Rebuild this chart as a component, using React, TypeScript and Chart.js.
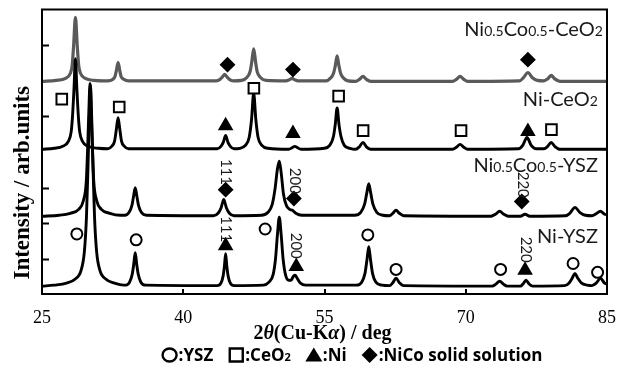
import React, { useEffect, useRef } from 'react';
import { Chart, registerables } from 'chart.js';

Chart.register(...registerables);

// ---------------- data ----------------
const X_MIN = 25;
const X_MAX = 85;
const xTickValues = [25, 40, 55, 70, 85];
const xInnerTicks = [40, 55, 70];
const yInnerTicks = [35, 71, 107, 180, 252];
const Y_MIN = -1;
const Y_MAX = 288;

// vertical stacking offsets of the four patterns (arb. units)
const seriesOffsets = [215, 146, 78, 7];

// [2theta, intensity above own baseline]
const niCoCeO2: [number, number][] = [
  [25, 0], [26.5, 1], [27.5, 3], [28.0, 8], [28.2, 16], [28.35, 35], [28.55, 65], [28.75, 35], [28.9, 16], [29.1, 8], [29.6, 3], [30.5, 1],
  [32.0, 0.5], [32.5, 2], [32.75, 5], [32.9, 11], [33.08, 19], [33.26, 11], [33.4, 5], [33.7, 2], [34.2, 0.5],
  [43.5, 0.5], [43.9, 2], [44.2, 5], [44.4, 7], [44.6, 5], [44.9, 2], [45.3, 0.5],
  [46.2, 1], [46.75, 4], [47.1, 10], [47.28, 20], [47.48, 33], [47.68, 20], [47.85, 10], [48.2, 4], [48.8, 1],
  [50.9, 0.5], [51.25, 1.5], [51.55, 3], [51.85, 1.5], [52.2, 0.5],
  [55.2, 0.5], [55.6, 3], [55.95, 8], [56.15, 16], [56.34, 26], [56.53, 16], [56.72, 8], [57.05, 3], [57.5, 0.5],
  [58.3, 0], [58.7, 2], [59.09, 5], [59.45, 2], [59.9, 0],
  [68.6, 0], [69.0, 2], [69.4, 5], [69.8, 2], [70.2, 0],
  [75.7, 0.5], [76.15, 4], [76.6, 9], [77.05, 4], [77.6, 1],
  [78.3, 0.5], [78.7, 2.5], [79.07, 6], [79.45, 2.5], [80.0, 0],
  [85, 0],
];

const niCeO2: [number, number][] = [
  [25, 0], [26.3, 1], [27.2, 3], [27.8, 8], [28.1, 18], [28.25, 35], [28.4, 62], [28.55, 92], [28.7, 62], [28.85, 35], [29.0, 18], [29.3, 8], [29.9, 3], [31.0, 1],
  [32.0, 0.5], [32.4, 3], [32.7, 8], [32.88, 19], [33.08, 32], [33.28, 19], [33.45, 8], [33.75, 3], [34.2, 0.5],
  [43.6, 0.5], [44.0, 3], [44.25, 7], [44.5, 14], [44.75, 7], [45.0, 3], [45.4, 0.5],
  [46.0, 1], [46.6, 4], [47.0, 12], [47.25, 30], [47.48, 57], [47.71, 30], [47.95, 12], [48.35, 4], [49.0, 1],
  [51.2, 0], [51.55, 1.5], [51.85, 3], [52.15, 1.5], [52.5, 0],
  [55.0, 1], [55.55, 4], [55.95, 13], [56.14, 25], [56.34, 42], [56.54, 25], [56.75, 13], [57.1, 4], [57.7, 1],
  [58.3, 0], [58.7, 2.5], [59.09, 7], [59.45, 2.5], [59.9, 0],
  [68.6, 0], [69.0, 2], [69.4, 5], [69.8, 2], [70.2, 0],
  [75.6, 0.5], [76.05, 4], [76.5, 12], [76.95, 4], [77.5, 0.5],
  [78.3, 0.5], [78.7, 3], [79.07, 7], [79.45, 3], [80.0, 0],
  [85, 0],
];

const niCoYSZ: [number, number][] = [
  [25, 0], [26.8, 1], [28.0, 3], [28.9, 7], [29.4, 16], [29.7, 35], [29.85, 70], [29.97, 105], [30.1, 135], [30.23, 105], [30.35, 70], [30.5, 35], [30.8, 16], [31.3, 7], [32.2, 3], [33.3, 1],
  [33.8, 1], [34.25, 4], [34.55, 11], [34.72, 20], [34.9, 29], [35.08, 20], [35.25, 11], [35.55, 4], [36.1, 1],
  [43.2, 0.5], [43.7, 3], [44.0, 8], [44.15, 13], [44.3, 17], [44.45, 13], [44.6, 8], [44.9, 3], [45.4, 0.5],
  [48.3, 1], [49.0, 4], [49.45, 12], [49.75, 28], [50.0, 48], [50.2, 56], [50.4, 44], [50.65, 22], [50.95, 11], [51.3, 7], [51.6, 6], [51.95, 3], [52.6, 1],
  [58.2, 1], [58.85, 4], [59.25, 12], [59.5, 24], [59.7, 33], [59.9, 24], [60.15, 12], [60.55, 4], [61.2, 1],
  [61.9, 0.5], [62.25, 3], [62.6, 6], [62.95, 3], [63.4, 0.5],
  [72.7, 0], [73.15, 2], [73.6, 5], [74.05, 2], [74.5, 0],
  [75.8, 0], [76.3, 2], [76.8, 0],
  [80.6, 0.5], [81.05, 3], [81.6, 9], [82.1, 4], [82.7, 1],
  [83.4, 0.5], [83.85, 2.5], [84.3, 5], [84.75, 2], [85, 1.5],
];

const niYSZ: [number, number][] = [
  [25, 0], [26.3, 1], [27.6, 3], [28.5, 7], [29.15, 16], [29.5, 35], [29.72, 70], [29.88, 120], [30.02, 170], [30.15, 204], [30.28, 170], [30.42, 120], [30.58, 70], [30.8, 35], [31.15, 16], [31.8, 7], [32.7, 3], [33.7, 1],
  [33.9, 1], [34.3, 4], [34.58, 12], [34.74, 22], [34.9, 34], [35.06, 22], [35.22, 12], [35.5, 4], [36.0, 1],
  [43.6, 0.5], [44.0, 3], [44.23, 10], [44.37, 20], [44.5, 33], [44.63, 20], [44.77, 10], [45.0, 3], [45.4, 0.5],
  [48.5, 1], [49.1, 4], [49.55, 12], [49.8, 28], [50.0, 52], [50.2, 70], [50.4, 52], [50.6, 28], [50.85, 12], [51.2, 6], [51.45, 6], [51.7, 10], [51.9, 11], [52.1, 8], [52.45, 3], [53.0, 1],
  [58.4, 1], [58.95, 4], [59.3, 13], [59.5, 26], [59.7, 40], [59.9, 26], [60.1, 13], [60.45, 4], [61.1, 1],
  [61.9, 0.5], [62.25, 3.5], [62.6, 8], [62.95, 3.5], [63.4, 0.5],
  [72.8, 0], [73.2, 2], [73.6, 5], [74.0, 2], [74.4, 0],
  [75.8, 0], [76.1, 2.5], [76.4, 6], [76.7, 2.5], [77.1, 0],
  [80.5, 0.5], [80.95, 3], [81.3, 8], [81.6, 13], [81.9, 8], [82.3, 3], [82.9, 1],
  [83.4, 0.5], [83.85, 3], [84.3, 8], [84.75, 3], [85, 2],
];

// phase markers [2theta, stacked intensity]
const yszMarks: [number, number][] = [[28.7, 60], [35.0, 54], [48.7, 65], [59.6, 59], [62.6, 24], [73.7, 24], [81.4, 30], [84.0, 21]];
const ceo2Marks: [number, number][] = [[27.1, 197], [33.2, 189], [47.5, 208], [56.5, 200], [59.1, 165], [69.5, 165], [79.1, 166]];
const niMarks: [number, number][] = [[44.5, 170], [51.65, 162], [76.6, 164], [44.5, 48], [52.0, 27], [76.3, 23]];
const nicoMarks: [number, number][] = [[44.7, 232], [51.65, 227], [76.6, 237], [44.5, 105], [51.75, 96], [75.95, 93]];

// hkl annotations [text, 2theta, stacked intensity]
const hklLabels: [string, number, number][] = [
  ['111', 44.5, 123], ['200', 51.85, 114], ['220', 76.05, 110],
  ['111', 44.5, 65], ['200', 51.95, 48], ['220', 76.4, 44],
];

// sample names: segments [text, isSmall], right anchor 2theta, baseline intensity
const seriesLabels: { segs: [string, number][]; x: number; y: number }[] = [
  { segs: [['Ni', 0], ['0.5', 1], ['Co', 0], ['0.5', 1], ['-CeO', 0], ['2', 1]], x: 84.57, y: 261 },
  { segs: [['Ni-CeO', 0], ['2', 1]], x: 84.04, y: 190 },
  { segs: [['Ni', 0], ['0.5', 1], ['Co', 0], ['0.5', 1], ['-YSZ', 0]], x: 84.04, y: 123 },
  { segs: [['Ni-YSZ', 0]], x: 84.04, y: 51 },
];

const legendItems: { sym: string; segs: [string, number][] }[] = [
  { sym: 'circle', segs: [[':YSZ', 0]] },
  { sym: 'square', segs: [[':CeO', 0], ['2', 1]] },
  { sym: 'triangle', segs: [[':Ni', 0]] },
  { sym: 'diamond', segs: [[':NiCo solid solution', 0]] },
];

const xTitleSegs: [string, number][] = [['2', 0], ['θ', 1], ['(Cu-K', 0], ['α', 1], [') / deg', 0]];
const yTitle = 'Intensity / arb.units';

// ---------------- helpers ----------------
function richWidth(ctx: CanvasRenderingContext2D, segs: [string, number][], fonts: string[]) {
  let w = 0;
  for (const [t, k] of segs) {
    ctx.font = fonts[k];
    w += ctx.measureText(t).width;
  }
  return w;
}

function drawRich(ctx: CanvasRenderingContext2D, segs: [string, number][], fonts: string[], x: number, y: number) {
  let cx = x;
  for (const [t, k] of segs) {
    ctx.font = fonts[k];
    ctx.fillText(t, cx, y);
    cx += ctx.measureText(t).width;
  }
  return cx;
}

function drawSymbol(ctx: CanvasRenderingContext2D, kind: string, cx: number, cy: number) {
  ctx.beginPath();
  ctx.lineWidth = 2.4;
  ctx.strokeStyle = '#000';
  ctx.fillStyle = '#000';
  if (kind === 'circle') {
    ctx.ellipse(cx, cy, 7, 6.5, 0, 0, Math.PI * 2);
    ctx.stroke();
  } else if (kind === 'square') {
    ctx.rect(cx - 6.5, cy - 6.5, 13, 13);
    ctx.stroke();
  } else if (kind === 'triangle') {
    ctx.moveTo(cx, cy - 7.5);
    ctx.lineTo(cx + 8.5, cy + 6.5);
    ctx.lineTo(cx - 8.5, cy + 6.5);
    ctx.closePath();
    ctx.fill();
  } else {
    ctx.moveTo(cx, cy - 8);
    ctx.lineTo(cx + 8, cy);
    ctx.lineTo(cx, cy + 8);
    ctx.lineTo(cx - 8, cy);
    ctx.closePath();
    ctx.fill();
  }
}

const decorPlugin = {
  id: 'decor',
  afterDraw(chart: any) {
    const { ctx, chartArea: a, scales } = chart;
    const xs = scales.x;
    const ys = scales.y;
    ctx.save();

    // frame
    ctx.strokeStyle = '#000';
    ctx.lineWidth = 2;
    ctx.strokeRect(a.left, a.top, a.right - a.left, a.bottom - a.top);

    // inner ticks
    ctx.beginPath();
    for (const v of yInnerTicks) {
      const py = Math.round(ys.getPixelForValue(v)) + 0.5;
      ctx.moveTo(a.left, py);
      ctx.lineTo(a.left + 7, py);
    }
    for (const v of xInnerTicks) {
      const px = Math.round(xs.getPixelForValue(v));
      ctx.moveTo(px, a.bottom);
      ctx.lineTo(px, a.bottom - 5);
    }
    ctx.lineWidth = 2;
    ctx.stroke();

    // sample labels
    ctx.fillStyle = '#1a1a1a';
    ctx.textBaseline = 'alphabetic';
    ctx.textAlign = 'left';
    const lblFonts = ['20px Lato', '14px Lato'];
    for (const s of seriesLabels) {
      const w = richWidth(ctx, s.segs, lblFonts);
      const rx = xs.getPixelForValue(s.x);
      drawRich(ctx, s.segs, lblFonts, rx - w, ys.getPixelForValue(s.y));
    }

    // hkl labels (rotated clockwise)
    ctx.font = '15px Lato';
    ctx.textAlign = 'center';
    ctx.textBaseline = 'middle';
    for (const [t, v, i] of hklLabels) {
      ctx.save();
      ctx.translate(xs.getPixelForValue(v), ys.getPixelForValue(i));
      ctx.rotate(Math.PI / 2);
      ctx.fillText(t, 0, 0);
      ctx.restore();
    }

    // y title
    ctx.fillStyle = '#000';
    ctx.save();
    ctx.translate(a.left - 13, (a.top + a.bottom) / 2 + 31);
    ctx.rotate(-Math.PI / 2);
    ctx.textAlign = 'center';
    ctx.textBaseline = 'alphabetic';
    ctx.font = 'bold 23px "Liberation Serif"';
    ctx.fillText(yTitle, 0, 0);
    ctx.restore();

    // x title
    ctx.textAlign = 'left';
    ctx.textBaseline = 'alphabetic';
    const tFonts = ['bold 20px "Liberation Serif"', 'italic bold 20px "Liberation Serif"'];
    const tw = richWidth(ctx, xTitleSegs, tFonts);
    const tcx = (a.left + a.right) / 2 - 2;
    drawRich(ctx, xTitleSegs, tFonts, tcx - tw / 2, a.bottom + 45);

    // legend
    const lFonts = ['bold 17px "Open Sans"', 'bold 11px "Open Sans"'];
    const symW = 16;
    const gap = 15;
    let total = 0;
    for (const it of legendItems) total += symW + 1 + richWidth(ctx, it.segs, lFonts);
    total += gap * (legendItems.length - 1);
    let lx = 352 - total / 2;
    const base = a.bottom + 67;
    for (const it of legendItems) {
      drawSymbol(ctx, it.sym, lx + symW / 2, base - 6);
      lx += symW + 1;
      ctx.fillStyle = '#000';
      lx = drawRich(ctx, it.segs, lFonts, lx, base);
      lx += gap;
    }

    ctx.restore();
  },
};

function toPts(arr: [number, number][], off: number) {
  return arr.map(([x, y]) => ({ x, y: y + off }));
}

export default function App() {
  const ref = useRef<HTMLCanvasElement | null>(null);
  useEffect(() => {
    if (!ref.current) return;
    const traces = [niCoCeO2, niCeO2, niCoYSZ, niYSZ];
    const colors = ['#5a5a5a', '#000', '#000', '#000'];
    const lineSets = traces.map((t, i) => ({
      type: 'line' as const,
      data: toPts(t, seriesOffsets[i]),
      borderColor: colors[i],
      borderWidth: i === 0 ? 3.2 : 2.9,
      pointRadius: 0,
      cubicInterpolationMode: 'monotone' as const,
      borderJoinStyle: 'round' as const,
      borderCapStyle: 'round' as const,
      fill: false,
      order: i === 0 ? 10 : 5 - i,
    }));
    const mk = (arr: [number, number][], style: string, r: number, fillC: string) => ({
      type: 'scatter' as const,
      data: arr.map(([x, y]) => ({ x, y })),
      showLine: false,
      pointStyle: style,
      pointRadius: r,
      pointBorderWidth: 2,
      pointBorderColor: '#000',
      pointBackgroundColor: fillC,
      order: 0,
    });
    const chart = new Chart(ref.current, {
      type: 'line',
      data: {
        datasets: [
          ...lineSets,
          mk(yszMarks, 'circle', 5.5, '#fff'),
          mk(ceo2Marks, 'rect', 7.5, '#fff'),
          mk(niMarks, 'triangle', 7, '#000'),
          mk(nicoMarks, 'rectRot', 6.5, '#000'),
        ] as any,
      },
      options: {
        animation: false,
        responsive: false,
        events: [],
        layout: { padding: { left: 42, right: 23, top: 5, bottom: 0 } },
        plugins: { legend: { display: false }, tooltip: { enabled: false } },
        scales: {
          x: {
            type: 'linear',
            min: X_MIN,
            max: X_MAX,
            afterBuildTicks: (s: any) => {
              s.ticks = xTickValues.map((v) => ({ value: v }));
            },
            afterFit: (s: any) => {
              s.height = 76;
            },
            grid: { display: false, drawTicks: false },
            border: { display: false },
            ticks: {
              color: '#000',
              padding: 13,
              maxRotation: 0,
              autoSkip: false,
              font: { family: '"Liberation Serif"', size: 18 },
              callback: (v: any) => String(v),
            },
          },
          y: {
            type: 'linear',
            min: Y_MIN,
            max: Y_MAX,
            display: false,
          },
        },
      },
      plugins: [decorPlugin],
    });
    return () => chart.destroy();
  }, []);
  return (
    <div style={{ position: 'absolute', left: 0, top: 0, width: 630, height: 370, background: '#fff' }}>
      <canvas ref={ref} width={630} height={370} style={{ display: 'block' }} />
    </div>
  );
}
